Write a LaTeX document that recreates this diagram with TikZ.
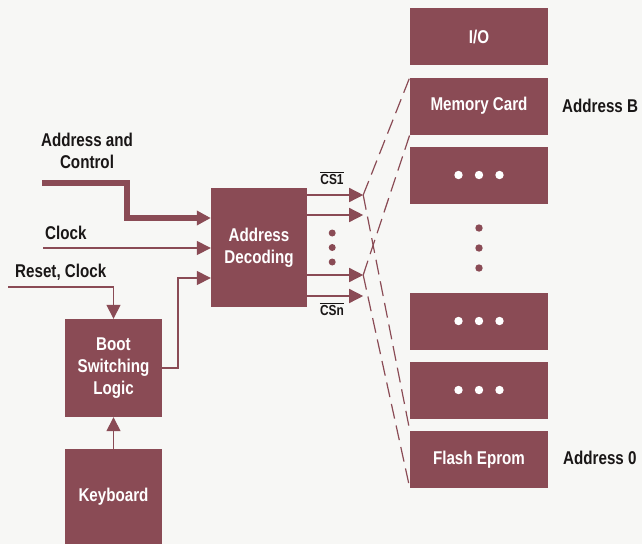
\documentclass[tikz,border=0pt]{standalone}
\usepackage{fontspec}
\setsansfont{Liberation Sans}[FakeStretch=0.82]
\usetikzlibrary{arrows.meta, calc}
\definecolor{hpred}{RGB}{138,75,85}
\definecolor{hpbg}{RGB}{247,247,245}
\definecolor{hpink}{RGB}{25,22,22}
\newcommand{\blockfont}{\fontsize{18.5}{22}\selectfont\sffamily\bfseries}
\newcommand{\csfont}{\fontsize{14.5}{16}\selectfont\sffamily\bfseries}

\begin{document}
\begin{tikzpicture}[x=1pt, y=-1pt,
                blk/.style={fill=hpred, text=white, font=\blockfont, inner sep=0pt, align=center},
                mbox/.style={blk, minimum width=138pt, minimum height=57pt},
                lbl/.style={text=hpink, font=\blockfont, inner sep=0pt, align=center},
                wire/.style={draw=hpred, line width=1.5pt},
                arr/.style={-{Triangle[length=14pt, width=14pt]}},
                sel/.style={draw=hpred, line width=1.2pt, dash pattern=on 15pt off 7pt}]
                \fill[hpbg] (0,0) rectangle (642,544);
                \useasboundingbox (0,0) rectangle (642,544);
                % memory stack
                \node[mbox] (io) at (479,36.5) {I/O};
                \node[mbox] (mem) at (479,106) {Memory Card};
                \node[mbox] (dotsA) at (479,175) {};
                \node[mbox] (dotsB) at (479,321) {};
                \node[mbox] (dotsC) at (479,390) {};
                \node[mbox] (flash) at (479,459.5) {Flash Eprom};
                \foreach \b in {dotsA, dotsB, dotsC}
                    \foreach \dx in {-20.5, 0, 20.5}
                        \fill[white] ($(\b)+(\dx,0)$) circle (4.2);
                \foreach \dy in {-20, 0, 20}
                    \fill[hpred] ($(dotsA.south)!0.5!(dotsB.north)+(0,\dy)$) circle (3.7);
                \node[lbl, anchor=west] (adrB) at (562,106) {Address B};
                \node[lbl, anchor=west] (adr0) at (563,458) {Address 0};
                % decoder, boot logic, keyboard
                \node[blk, minimum width=96pt, minimum height=119pt] (dec) at (259,247.5) {Address\\Decoding};
                \node[blk, minimum width=97pt, minimum height=98pt] (boot) at (113.5,368) {Boot\\Switching\\Logic};
                \node[blk, minimum width=97pt, minimum height=95pt] (kbd) at (113.5,496.5) {Keyboard};
                % inputs
                \node[lbl] (adrlbl) at (87,151) {Address and\\Control};
                \node[lbl, anchor=west] (clklbl) at (45,233) {Clock};
                \node[lbl, anchor=west] (rstlbl) at (15,272) {Reset, Clock};
                \coordinate (adrin) at (42,183);
                \coordinate (clkin) at (43,248);
                \coordinate (rstin) at (8,287);
                \draw[wire, line width=6pt, arr] (adrin) -- ++(85,0) |- ($(dec.west)+(0,-29.5)$);
                \draw[wire, arr] (clkin) -- (clkin -| dec.west);
                \draw[wire, arr] (rstin) -| (boot.north);
                \draw[wire, arr] (kbd.north) -- (boot.south);
                \draw[wire, arr] (boot.east) -- ++(16,0) |- ($(dec.west)+(0,30.5)$);
                % chip selects
                \foreach \dy/\nm in {-52.5/o1, -32.5/o2, 27.5/o3, 48.5/o4}
                    \draw[wire, arr] ($(dec.east)+(0,\dy)$) -- ++(56,0) coordinate (\nm);
                \foreach \dy in {-14.5, 0, 14.5}
                    \fill[hpred] ($(dec.east)+(25,\dy)$) circle (3.5);
                \node[lbl, font=\csfont] (cs1) at (332,180) {CS1};
                \node[lbl, font=\csfont] (csn) at (332,311) {CSn};
                \foreach \c in {cs1, csn}
                    \draw[hpink, line width=1.1pt] ($(\c.north west)+(0,-2)$) -- ($(\c.north east)+(0,-2)$);
                \draw[sel] (o1) -- (mem.north west);
                \draw[sel] (o1) -- (flash.north west);
                \draw[sel] (o3) -- (mem.south west);
                \draw[sel] (o3) -- (flash.south west);
            \end{tikzpicture}
\end{document}
